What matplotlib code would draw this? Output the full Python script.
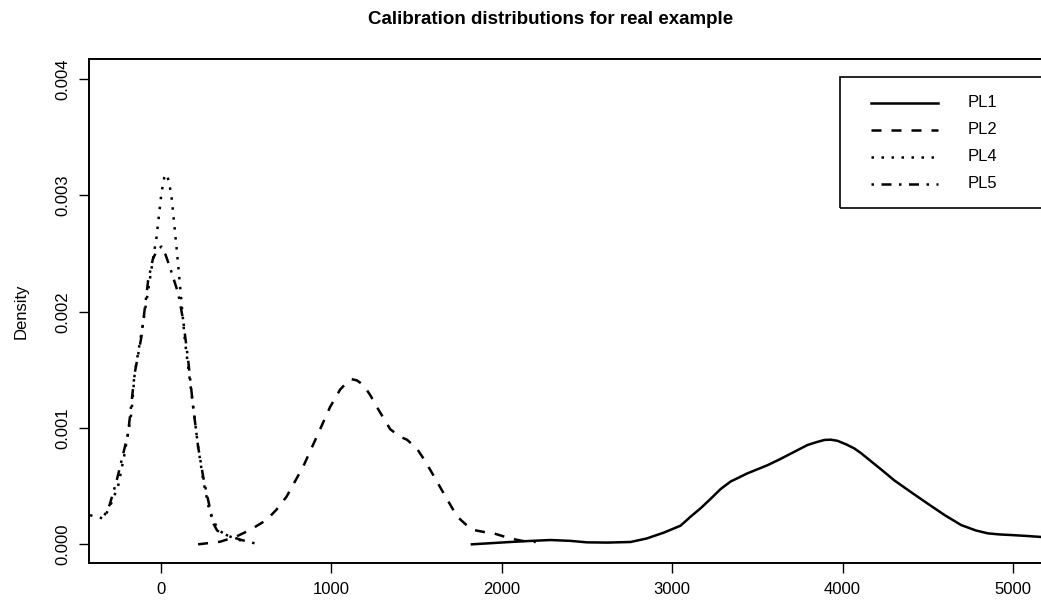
import matplotlib.pyplot as plt
from matplotlib.patches import Rectangle
from matplotlib.lines import Line2D

plt.rcParams['font.family'] = ['Liberation Sans', 'DejaVu Sans']

# density estimates for each calibration series
pl1_x = [1825, 2050, 2180, 2285, 2400, 2500, 2620, 2756, 2850, 2950, 3049,
         3110, 3167, 3225, 3284, 3343, 3441, 3559, 3630, 3696, 3794, 3850,
         3892, 3930, 3970, 4020, 4068, 4107, 4225, 4303, 4400, 4499, 4600,
         4695, 4780, 4851, 4920, 4988, 5080, 5176]
pl1_y = [0.00000, 0.00002, 0.00003, 0.000037, 0.00003, 0.000017, 0.000015,
         0.00002, 0.00005, 0.0001, 0.00016, 0.00024, 0.00031, 0.00039,
         0.000475, 0.00054, 0.00061, 0.00068, 0.00073, 0.00078, 0.000854,
         0.00088, 0.000897, 0.0009, 0.00089, 0.00086, 0.000825, 0.000785,
         0.000645, 0.00055, 0.00045, 0.00035, 0.00025, 0.000166, 0.00012,
         0.0000945, 0.000085, 0.00008, 0.000072, 0.000062]

pl2_x = [219, 347, 440, 523, 621, 680, 738, 836, 915, 993, 1052, 1090, 1120,
         1150, 1189, 1230, 1268, 1346, 1404, 1444, 1502, 1540, 1581, 1659,
         1738, 1790, 1836, 1900, 1953, 2051, 2120, 2200]
pl2_y = [0.0, 0.000022, 0.000065, 0.000123, 0.00021, 0.0003, 0.00041,
         0.00067, 0.000925, 0.00118, 0.00133, 0.00139, 0.00142, 0.00141,
         0.00137, 0.00128, 0.00118, 0.00099, 0.000925, 0.0009, 0.000825,
         0.00074, 0.00064, 0.00044, 0.00024, 0.00017, 0.000123, 0.000105,
         0.0000945, 0.00005, 0.00003, 0.00002]

pl4_x = [-415, -380, -335, -300, -251, -212, -172, -153, -104, -65, -25, 4,
         20, 33, 48, 63, 92, 112, 141, 180, 219, 249, 288, 337, 385, 435, 500]
pl4_y = [0.00025, 0.00024, 0.00022, 0.00032, 0.000495, 0.00078, 0.00113,
         0.00147, 0.0019, 0.00227, 0.00264, 0.00302, 0.00315, 0.003184,
         0.00312, 0.00299, 0.00256, 0.00224, 0.00176, 0.0013, 0.00084,
         0.00055, 0.00027, 0.000123, 0.00008, 0.00005, 0.00002]

pl5_x = [-330, -300, -260, -192, -153, -114, -74, -45, -20, 4, 28, 52, 102,
         131, 161, 190, 219, 249, 278, 308, 330, 356, 415, 474, 552, 570]
pl5_y = [0.00025, 0.00034, 0.00054, 0.00095, 0.00147, 0.00178, 0.00227,
         0.00246, 0.00253, 0.00256, 0.00249, 0.00239, 0.00216, 0.00193,
         0.00158, 0.00118, 0.00084, 0.00058, 0.00038, 0.00018, 0.00012,
         0.0000945, 0.000065, 0.000037, 0.0000086, 0.0]

series_names = ['PL1', 'PL2', 'PL4', 'PL5']
x_ticks = [0, 1000, 2000, 3000, 4000, 5000]
y_ticks = [0.000, 0.001, 0.002, 0.003, 0.004]

styles = {
    'PL1': dict(linestyle='-'),
    'PL2': dict(linestyle=(0, (4, 4))),
    'PL4': dict(linestyle=(0, (1, 3))),
    'PL5': dict(linestyle=(0, (1, 3, 4, 3))),
}

W, H = 1041, 604
fig = plt.figure(figsize=(W / 100, H / 100), dpi=100)
ax = fig.add_axes([89 / W, (H - 562.7) / H, 1 - 89 / W + 0.002, (562.7 - 59) / H])

for name, xs, ys in zip(series_names, [pl1_x, pl2_x, pl4_x, pl5_x],
                        [pl1_y, pl2_y, pl4_y, pl5_y]):
    ax.plot(xs, ys, color='black', lw=1.8, solid_joinstyle='round',
            **styles[name])

ax.set_xlim(-421, 5176)
ax.set_ylim(-0.000158, 0.004173)
ax.set_xticks(x_ticks)
ax.set_xticklabels([str(t) for t in x_ticks])
ax.set_yticks(y_ticks)
ax.set_yticklabels(['%.3f' % t for t in y_ticks], rotation=90, va='center')
ax.tick_params(direction='out', length=7.2, width=1, labelsize=12,
               colors='black')
ax.tick_params(axis='x', pad=7)
ax.tick_params(axis='y', pad=6)
for side in ['left', 'bottom', 'top']:
    ax.spines[side].set_linewidth(1.4)
ax.spines['right'].set_visible(False)

fig.text(551 / W, 1 - 20 / H, 'Calibration distributions for real example',
         ha='center', va='center', fontsize=13.5, fontweight='bold')
fig.text(21 / W, 1 - 311 / H, 'Density', rotation=90, ha='center',
         va='center', fontsize=12)

# legend box in the upper right corner
fig.patches.append(Rectangle((840 / W, 1 - 208 / H), 0.3, (208 - 77.3) / H,
                             transform=fig.transFigure, fill=False,
                             edgecolor='black', lw=1.2))
for i, name in enumerate(series_names):
    yy = 1 - (102.7 + 27.1 * i) / H
    fig.lines.append(Line2D([871 / W, 938 / W], [yy, yy], color='black',
                            lw=1.8, transform=fig.transFigure, **styles[name]))
    fig.text(968 / W, yy, name, ha='left', va='center', fontsize=12)

fig.savefig('out.png', dpi=100)
